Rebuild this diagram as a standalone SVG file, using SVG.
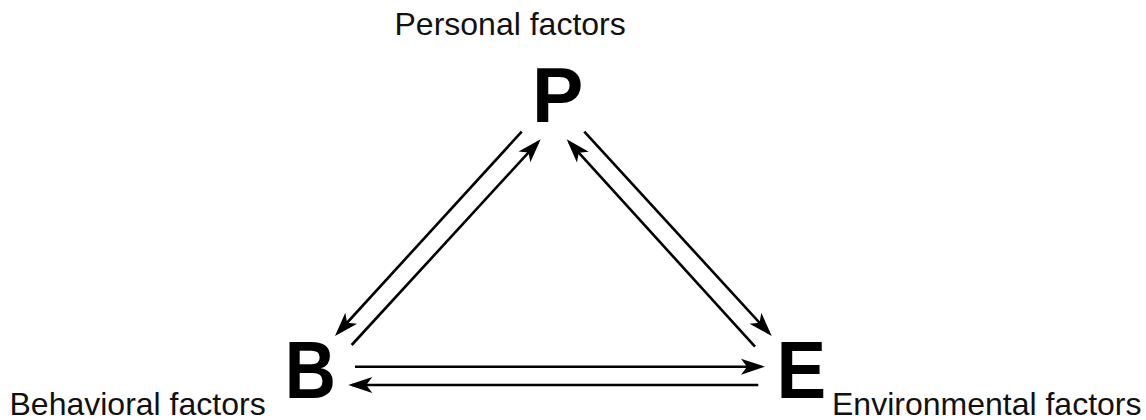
<svg xmlns="http://www.w3.org/2000/svg" width="1146" height="420" viewBox="0 0 1146 420">
<style>
.lbl{font-family:"Liberation Sans",Arial,sans-serif;font-size:32px;fill:#111}
.big{font-family:"Liberation Sans",Arial,sans-serif;font-weight:bold;fill:#000}
.ar{stroke:#000;stroke-width:2.6;fill:none;marker-end:url(#ah)}
</style>
<defs>
<marker id="ah" markerUnits="userSpaceOnUse" viewBox="-22 -9 27 18" refX="0" refY="0" markerWidth="27" markerHeight="18" orient="auto">
<path d="M4,0 L-20,-8 L-14,0 L-20,8 Z" fill="#000"/>
</marker>
</defs>
<rect width="1146" height="420" fill="#fff"/>
<g id="node-P">
<text class="lbl" x="394.5" y="35">Personal factors</text>
<text class="big" x="532" y="122" font-size="77">P</text>
</g>
<g id="node-B">
<text class="lbl" x="9.5" y="415">Behavioral factors</text>
<text class="big" font-size="81" transform="translate(284.8,398) scale(0.875,1)">B</text>
</g>
<g id="node-E">
<text class="lbl" x="832" y="415">Environmental factors</text>
<text class="big" font-size="81" transform="translate(776.6,398) scale(0.92,1)">E</text>
</g>
<g id="connectors">
<line class="ar" x1="521.7" y1="131.7" x2="337.7" y2="333.0"/>
<line class="ar" x1="351.7" y1="345" x2="538.0" y2="142.2"/>
<line class="ar" x1="755" y1="346.7" x2="569.4" y2="142.3"/>
<line class="ar" x1="584.3" y1="131.7" x2="769.0" y2="333.0"/>
<line class="ar" x1="355" y1="366.7" x2="761" y2="366.7"/>
<line class="ar" x1="758.3" y1="385" x2="352.3" y2="385"/>
</g>
</svg>
